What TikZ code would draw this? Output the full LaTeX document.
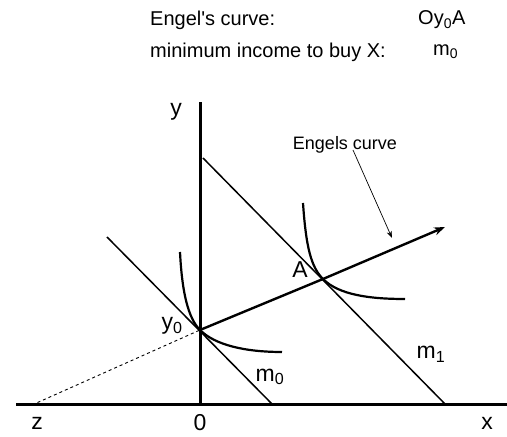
\documentclass[tikz,border=0pt]{standalone}
\usepackage{fontspec}
\setmainfont{Liberation Sans}
\usetikzlibrary{arrows.meta, calc}

\begin{document}
\begin{tikzpicture}[>={Stealth[length=11pt,width=8pt]}, x=1pt, y=1pt,
    axis/.style={line width=3pt},
    budget/.style={line width=1.5pt},
    indiff/.style={line width=2.2pt},
    lbl/.style={font=\fontsize{23}{26}\selectfont, inner sep=0pt},
    head/.style={font=\fontsize{20}{23}\selectfont, inner sep=0pt, anchor=west}]
  \useasboundingbox (0,0) rectangle (507,437);
  % points
  \coordinate (O) at (200,32);
  \coordinate (xL) at (16,32);
  \coordinate (xR) at (507,32);
  \coordinate (yT) at (200,335);
  \coordinate (Z) at (32,32);
  \coordinate (Y0) at (200,107);
  \coordinate (A) at (323,158);
  \coordinate (E) at (445,210);
  \coordinate (m0a) at (107,200);
  \coordinate (m0b) at (273,32);
  \coordinate (m1a) at (203,279);
  \coordinate (m1b) at (446,32);
  % axes
  \draw[axis] (xL) -- (xR);
  \draw[axis] (O) -- (yT);
  \node[lbl] (ylab) at (176,325) {y};
  \node[lbl] (zlab) at (37,14) {z};
  \node[lbl] (olab) at (200,14) {0};
  \node[lbl] (xlab) at (487,14) {x};
  % budget lines
  \draw[budget] (m0a) -- (m0b);
  \draw[budget] (m1a) -- (m1b);
  \node[lbl] (m0lab) at (270,60) {m\textsubscript{0}};
  \node[lbl] (m1lab) at (431,83) {m\textsubscript{1}};
  % indifference curves
  \draw[indiff] (180,185) .. controls (182,145) and (188,119) .. (Y0)
    .. controls (215,92) and (245,85) .. (282,85);
  \draw[indiff] (303,234) .. controls (306,190) and (311,170) .. (A)
    .. controls (339,142) and (370,138) .. (405,138);
  % Engel curve
  \draw[dashed, line width=0.9pt] (Z) -- (Y0);
  \draw[line width=2.4pt, ->] (Y0) -- (A) -- (E);
  \node[lbl] (y0lab) at (172,111) {y\textsubscript{0}};
  \node[lbl] (Alab) at (300,167) {A};
  \node[lbl, font=\fontsize{18}{21}\selectfont] (elab) at (345,292) {Engels curve};
  \draw[line width=0.7pt, -{Stealth[length=7pt,width=5pt]}] (353,287) -- (392,199);
  % legend
  \node[head] (t1) at (150,417) {Engel\textquotesingle s curve:};
  \node[head] (t2) at (150,385) {minimum income to buy X:};
  \node[head] (t3) at (418,417) {Oy\textsubscript{0}A};
  \node[head] (t4) at (433,385) {m\textsubscript{0}};
\end{tikzpicture}
\end{document}
